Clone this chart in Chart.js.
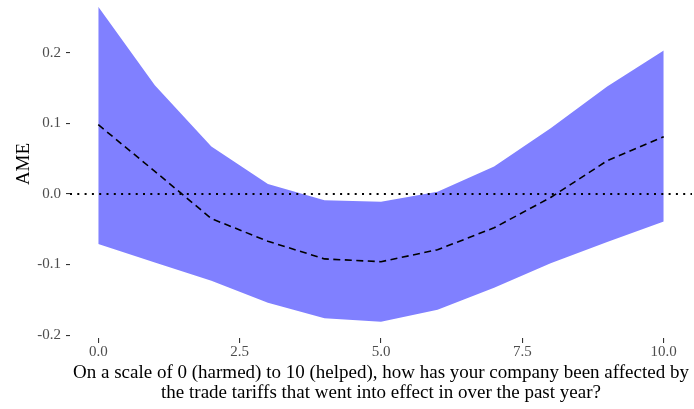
<!DOCTYPE html>
<html>
<head>
<meta charset="utf-8">
<script src="https://cdn.jsdelivr.net/npm/chart.js@4.4.1/dist/chart.umd.min.js"></script>
<style>
  html, body { margin: 0; padding: 0; background: #ffffff; }
  #wrap { width: 694px; height: 409px; position: relative; }
</style>
</head>
<body>
<div id="wrap"><canvas id="c" width="694" height="409"></canvas></div>
<script>
// Tariff impact scale (0 = harmed, 10 = helped)
const scalePoints = [0, 1, 2, 3, 4, 5, 6, 7, 8, 9, 10];
// Average marginal effect and its confidence band
const ameEstimate = [0.098, 0.032, -0.035, -0.067, -0.092, -0.096, -0.079, -0.048, -0.005, 0.047, 0.081];
const ciUpper = [0.265, 0.154, 0.067, 0.014, -0.009, -0.011, 0.003, 0.039, 0.093, 0.152, 0.203];
const ciLower = [-0.071, -0.097, -0.123, -0.154, -0.176, -0.181, -0.164, -0.133, -0.098, -0.068, -0.039];
// Reference line at zero, spanning the panel
const zeroLineX = [-0.5, 10.5];
const zeroLineY = [0, 0];
// Axis ticks
const xTicks = [0, 2.5, 5, 7.5, 10];
const yTicks = [-0.2, -0.1, 0, 0.1, 0.2];

const xTitleLines = [
  'On a scale of 0 (harmed) to 10 (helped), how has your company been affected by',
  'the trade tariffs that went into effect in over the past year?'
];
const yTitle = 'AME';

const pts = (xs, ys) => xs.map((x, i) => ({ x: x, y: ys[i] }));
const SERIF = '"Liberation Serif", "DejaVu Serif", serif';

const axisTitles = {
  id: 'axisTitles',
  afterDraw(chart) {
    const ctx = chart.ctx;
    const area = chart.chartArea;
    ctx.save();
    ctx.fillStyle = '#000000';
    ctx.font = '19px ' + SERIF;
    ctx.textAlign = 'center';
    ctx.textBaseline = 'alphabetic';
    const cx = (area.left + area.right) / 2;
    ctx.fillText(xTitleLines[0], cx, 378);
    ctx.fillText(xTitleLines[1], cx, 398);
    ctx.translate(28.5, 164);
    ctx.rotate(-Math.PI / 2);
    ctx.fillText(yTitle, 0, 0);
    ctx.restore();
  }
};

new Chart(document.getElementById('c'), {
  type: 'line',
  data: {
    datasets: [
      {
        label: 'AME',
        data: pts(scalePoints, ameEstimate),
        borderColor: '#000000',
        borderWidth: 1.6,
        borderDash: [7, 4.5],
        pointRadius: 0,
        fill: false,
        tension: 0
      },
      {
        label: 'zero',
        data: pts(zeroLineX, zeroLineY),
        borderColor: '#000000',
        borderWidth: 2,
        borderDash: [2, 5.3],
        pointRadius: 0,
        fill: false
      },
      {
        label: 'upper',
        data: pts(scalePoints, ciUpper),
        borderWidth: 0,
        borderColor: 'rgba(0,0,0,0)',
        backgroundColor: 'rgb(128,128,255)',
        pointRadius: 0,
        fill: '+1',
        tension: 0
      },
      {
        label: 'lower',
        data: pts(scalePoints, ciLower),
        borderWidth: 0,
        borderColor: 'rgba(0,0,0,0)',
        pointRadius: 0,
        fill: false,
        tension: 0
      }
    ]
  },
  options: {
    responsive: false,
    animation: false,
    events: [],
    layout: { padding: { left: 0, right: 2, top: 0, bottom: 0 } },
    plugins: {
      legend: { display: false },
      tooltip: { enabled: false },
      title: { display: false }
    },
    scales: {
      x: {
        type: 'linear',
        min: -0.5,
        max: 10.5,
        afterBuildTicks: s => { s.ticks = xTicks.map(v => ({ value: v })); },
        afterFit: s => { s.height = 71; s.paddingLeft = 0; s.paddingRight = 0; },
        border: { display: false },
        grid: { drawOnChartArea: false, drawTicks: true, tickLength: 5, color: '#333333', lineWidth: 1.1 },
        ticks: {
          color: '#4d4d4d',
          font: { family: SERIF, size: 15 },
          padding: 0,
          maxRotation: 0,
          autoSkip: false,
          callback: v => Number(v).toFixed(1)
        }
      },
      y: {
        type: 'linear',
        min: -0.204,
        max: 0.2746,
        afterBuildTicks: s => { s.ticks = yTicks.map(v => ({ value: v })); },
        afterFit: s => { s.width = 70; s.paddingTop = 0; s.paddingBottom = 0; },
        border: { display: false },
        grid: { drawOnChartArea: false, drawTicks: true, tickLength: 4, color: '#333333', lineWidth: 1.1 },
        ticks: {
          color: '#4d4d4d',
          font: { family: SERIF, size: 15 },
          padding: 5,
          autoSkip: false,
          callback: v => Number(v).toFixed(1)
        }
      }
    }
  },
  plugins: [axisTitles]
});
</script>
</body>
</html>
